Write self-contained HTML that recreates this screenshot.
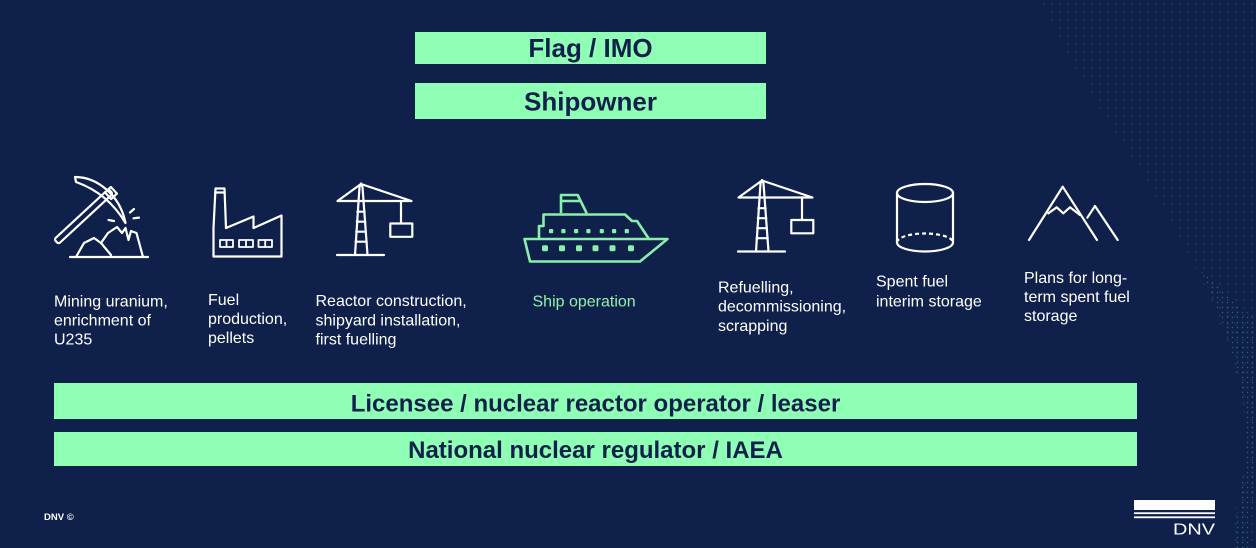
<!DOCTYPE html>
<html>
<head>
<meta charset="utf-8">
<style>
  html, body { margin:0; padding:0; background:#0f204b; }
  body { width:1256px; height:548px; overflow:hidden; }
  svg { display:block; }
  text { font-family: "Liberation Sans", Arial, sans-serif; }
</style>
</head>
<body>
<svg width="1256" height="548" viewBox="0 0 1256 548" xmlns="http://www.w3.org/2000/svg">
  <defs>
    <pattern id="dots" width="8" height="8" patternUnits="userSpaceOnUse">
      <circle cx="4" cy="4" r="0.7" fill="#52b98f"/>
    </pattern>
    <pattern id="dots2" width="5" height="5" patternUnits="userSpaceOnUse">
      <circle cx="2.5" cy="2.5" r="0.7" fill="#5cc796"/>
    </pattern>
  </defs>
  <rect width="1256" height="548" fill="#0f204b"/>

  <!-- dotted wave background on the right -->
  <path d="M1040,0 C1090,110 1170,200 1210,300 C1240,370 1252,430 1244,470 C1236,500 1232,530 1232,548 L1256,548 L1256,0 Z" fill="url(#dots)" opacity="0.35"/>
  <path d="M1200,270 C1228,330 1245,385 1246,440 C1244,480 1236,510 1234,548 L1250,548 C1252,500 1258,460 1256,420 L1256,320 Z" fill="url(#dots2)" opacity="0.4"/>

  <!-- top boxes -->
  <rect x="415" y="32" width="351" height="32" fill="#8effb4"/>
  <text x="590.5" y="57" text-anchor="middle" font-weight="bold" font-size="26" fill="#0f204b">Flag / IMO</text>
  <rect x="415" y="83" width="351" height="36" fill="#8effb4"/>
  <text x="590.5" y="110.5" text-anchor="middle" font-weight="bold" font-size="26" fill="#0f204b">Shipowner</text>

  <!-- bottom boxes -->
  <rect x="54" y="383" width="1083" height="36" fill="#8effb4"/>
  <text x="595.5" y="411.5" text-anchor="middle" font-weight="bold" font-size="24" fill="#0f204b">Licensee / nuclear reactor operator / leaser</text>
  <rect x="54" y="432" width="1083" height="34" fill="#8effb4"/>
  <text x="595.5" y="458" text-anchor="middle" font-weight="bold" font-size="24" fill="#0f204b">National nuclear regulator / IAEA</text>

  <!-- ICONS (white) -->
  <g fill="none" stroke="#ffffff" stroke-width="2.2" stroke-linejoin="round" stroke-linecap="round">
    <!-- Pickaxe -->
    <rect x="-37" y="-3.2" width="74" height="6.4" rx="2" transform="translate(83.5,216.5) rotate(-42.8)"/>
    <path d="M75,177 C97,177 120,195 125.5,223 C113,202 96,189 76,182 Z"/>
    <rect x="-4" y="-4.5" width="8" height="9" transform="translate(111,193) rotate(-42.8)"/>
    <path d="M130,212.5 L134,209"/>
    <path d="M133.5,218.3 L139,217.6"/>
    <path d="M108.5,220 L114,221"/>
    <path d="M70,257 H148"/>
    <path d="M76,257 L84,243 L94,238 L101,243 L108,233 L117,227 L122,233 L125.5,228 L128.5,240 L131,231 L136.5,233 L143,257"/>
    <path d="M101,243 L111,255"/>

    <!-- Factory -->
    <path d="M213.5,228 L215.5,188.5 L224.5,188.5 L226,228"/>
    <path d="M215.3,192.5 H224.7"/>
    <path d="M213.5,228 L213.5,256.5 L281.5,256.5 L281.5,215.5 L253.5,228 L253.5,216.5 L226,228"/>
    <rect x="220" y="240" width="13" height="7" stroke-width="1.8"/>
    <path d="M226.5,240 V247" stroke-width="1.8"/>
    <rect x="239" y="240" width="14" height="7" stroke-width="1.8"/>
    <path d="M246,240 V247" stroke-width="1.8"/>
    <rect x="258.5" y="240" width="13.5" height="7" stroke-width="1.8"/>
    <path d="M265.2,240 V247" stroke-width="1.8"/>

    <!-- Crane 1 -->
    <g>
      <path d="M337,255 H384"/>
      <path d="M355,255 L359.5,187 L361,183.5 L362.5,187 L367.5,255"/>
      <path d="M357.4,211.7 H364.6 M356.8,221.7 H365.3 M356.2,231.7 H366 M355.6,241.7 H366.7"/>
      <path d="M337.5,201 L361,184 L411.5,201 Z"/>
      <path d="M401,201 V223.5"/>
      <rect x="390.3" y="223.5" width="22" height="13.3"/>
    </g>
    <!-- Crane 2 -->
    <g transform="translate(401,-3.5)">
      <path d="M337,255 H384"/>
      <path d="M355,255 L359.5,187 L361,183.5 L362.5,187 L367.5,255"/>
      <path d="M357.4,211.7 H364.6 M356.8,221.7 H365.3 M356.2,231.7 H366 M355.6,241.7 H366.7"/>
      <path d="M337.5,201 L361,184 L411.5,201 Z"/>
      <path d="M401,201 V223.5"/>
      <rect x="390.3" y="223.5" width="22" height="13.3"/>
    </g>

    <!-- Cylinder -->
    <ellipse cx="925" cy="193" rx="28" ry="9"/>
    <path d="M897,193 V242.5 M953,193 V242.5"/>
    <path d="M897,242.5 A28,9 0 0 0 953,242.5"/>
    <path d="M897,242.5 A28,9 0 0 1 953,242.5" stroke-dasharray="4 3" stroke-linecap="butt"/>

    <!-- Mountains -->
    <path d="M1029,240 L1062.7,186.7 L1097,240"/>
    <path d="M1087.3,217.7 L1095,206 L1117.7,240"/>
    <path d="M1048.3,213.3 L1056.7,207.3 L1063.3,213.3 L1070,207.3 L1080,215"/>
  </g>

  <!-- Ship (green) -->
  <g fill="none" stroke="#88f0aa" stroke-width="2.6" stroke-linejoin="round">
    <path d="M561,213.3 V195 H577.7 L586.7,213.3"/>
    <path d="M561,201 H580"/>
    <path d="M539,239 V226 H543.5 V214.5 H625 L632,221 H637 L649,239"/>
    <path d="M524.5,239 H667.5 L640,261.5 H530 Z"/>
  </g>
  <g fill="#88f0aa">
    <rect x="549" y="229" width="4.2" height="4.2" rx="1"/>
    <rect x="561.3" y="229" width="4.2" height="4.2" rx="1"/>
    <rect x="574" y="229" width="4.2" height="4.2" rx="1"/>
    <rect x="586.3" y="229" width="4.2" height="4.2" rx="1"/>
    <rect x="599.7" y="229" width="4.2" height="4.2" rx="1"/>
    <rect x="612" y="229" width="4.2" height="4.2" rx="1"/>
    <rect x="624.7" y="229" width="4.2" height="4.2" rx="1"/>
    <rect x="542" y="245.3" width="6" height="6" rx="1.5"/>
    <rect x="559" y="245.3" width="6" height="6" rx="1.5"/>
    <rect x="576" y="245.3" width="6" height="6" rx="1.5"/>
    <rect x="592.5" y="245.3" width="6" height="6" rx="1.5"/>
    <rect x="609.5" y="245.3" width="6" height="6" rx="1.5"/>
    <rect x="628" y="245.3" width="6" height="6" rx="1.5"/>
  </g>

  <!-- Labels -->
  <g font-size="16" fill="#ffffff">
    <text x="54" y="306.7"><tspan x="54">Mining uranium,</tspan><tspan x="54" dy="19">enrichment of</tspan><tspan x="54" dy="19">U235</tspan></text>
    <text x="208" y="305"><tspan x="208">Fuel</tspan><tspan x="208" dy="19">production,</tspan><tspan x="208" dy="19">pellets</tspan></text>
    <text x="315.5" y="306"><tspan x="315.5">Reactor construction,</tspan><tspan x="315.5" dy="19.3">shipyard installation,</tspan><tspan x="315.5" dy="19.3">first fuelling</tspan></text>
    <text x="532.5" y="306.7" fill="#8ef2ae">Ship operation</text>
    <text x="718" y="292.3"><tspan x="718">Refuelling,</tspan><tspan x="718" dy="19.4">decommissioning,</tspan><tspan x="718" dy="19.4">scrapping</tspan></text>
    <text x="876" y="286.7"><tspan x="876">Spent fuel</tspan><tspan x="876" dy="20">interim storage</tspan></text>
    <text x="1024" y="283.2"><tspan x="1024">Plans for long-</tspan><tspan x="1024" dy="18.8">term spent fuel</tspan><tspan x="1024" dy="18.8">storage</tspan></text>
  </g>

  <!-- Footer -->
  <text x="44" y="520" font-size="9.5" font-weight="bold" fill="#ffffff">DNV ©</text>

  <!-- DNV logo -->
  <rect x="1134" y="500" width="81" height="10" fill="#ffffff"/>
  <rect x="1134" y="512.3" width="81" height="1.8" fill="#ffffff"/>
  <rect x="1134" y="516.4" width="81" height="1.8" fill="#ffffff"/>
  <text x="1173" y="534.5" font-size="15.5" fill="#ffffff" textLength="42" lengthAdjust="spacingAndGlyphs">DNV</text>
</svg>
</body>
</html>
